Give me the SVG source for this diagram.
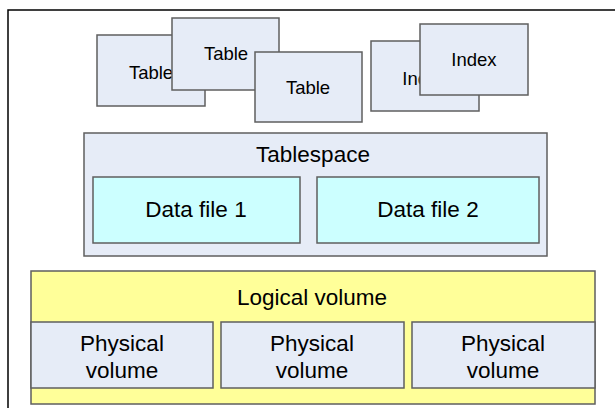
<svg xmlns="http://www.w3.org/2000/svg" width="615" height="408" viewBox="0 0 615 408">
<style>
.b{fill:#E6ECF7;stroke:#5f5f5f;stroke-width:1.5}
.c{fill:#CCFFFF;stroke:#5f5f5f;stroke-width:1.5}
.y{fill:#FFFF99;stroke:#5f5f5f;stroke-width:1.5}
text{font-family:"Liberation Sans",Arial,sans-serif;fill:#000;text-anchor:middle}
.s{font-size:18.5px}
.l{font-size:22.5px}
</style>
<rect x="0" y="0" width="615" height="408" fill="#fff"/>
<path d="M8 408 V10 H615" fill="none" stroke="#000" stroke-width="1.5"/>
<g id="table1"><rect class="b" x="97" y="35" width="108" height="71"/><text class="s" x="151" y="79">Table</text></g>
<g id="table2"><rect class="b" x="172" y="18" width="107" height="72"/><text class="s" x="226" y="60">Table</text></g>
<g id="table3"><rect class="b" x="255" y="52" width="107" height="70"/><text class="s" x="308" y="94">Table</text></g>
<g id="index1"><rect class="b" x="371" y="41" width="108" height="70"/><text class="s" x="425" y="85">Index</text></g>
<g id="index2"><rect class="b" x="420" y="24" width="108" height="71"/><text class="s" x="474" y="66">Index</text></g>
<g id="tablespace"><rect class="b" x="84" y="133" width="463" height="123"/><text class="l" x="313" y="161.5">Tablespace</text></g>
<g id="datafile1"><rect class="c" x="93" y="177" width="207" height="66"/><text class="l" x="196" y="217">Data file 1</text></g>
<g id="datafile2"><rect class="c" x="317" y="177" width="222" height="66"/><text class="l" x="428" y="217">Data file 2</text></g>
<g id="logical"><rect class="y" x="31" y="271" width="564" height="133"/><text class="l" x="312" y="305">Logical volume</text></g>
<g id="pv1"><rect class="b" x="31" y="322" width="182" height="66"/><text class="l" x="122" y="351">Physical</text><text class="l" x="122" y="377.5">volume</text></g>
<g id="pv2"><rect class="b" x="221" y="322" width="183" height="66"/><text class="l" x="312" y="351">Physical</text><text class="l" x="312" y="377.5">volume</text></g>
<g id="pv3"><rect class="b" x="412" y="322" width="183" height="66"/><text class="l" x="503" y="351">Physical</text><text class="l" x="503" y="377.5">volume</text></g>
<g id="connectors"></g>
</svg>
